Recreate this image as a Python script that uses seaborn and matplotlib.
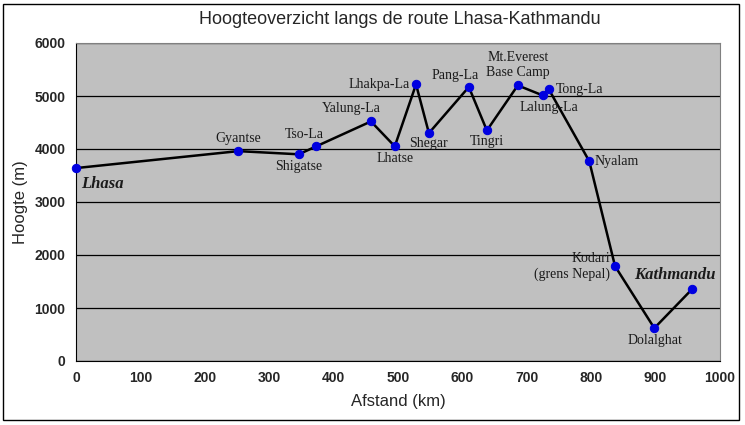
import matplotlib
matplotlib.use("Agg")
import matplotlib.pyplot as plt
import seaborn as sns
import pandas as pd
from matplotlib.patches import Rectangle

# route data
places = ["Lhasa", "Gyantse", "Shigatse", "Tso-La", "Yalung-La", "Lhatse", "Lhakpa-La",
          "Shegar", "Pang-La", "Tingri", "Mt.Everest\nBase Camp", "Lalung-La", "Tong-La",
          "Nyalam", "Kodari\n(grens Nepal)", "Dolalghat", "Kathmandu"]
distance_km = [0, 252, 346, 373, 458, 495, 528, 548, 610, 638, 686, 725, 734, 797, 837, 898, 957]
height_m = [3640, 3960, 3900, 4050, 4520, 4050, 5220, 4300, 5170, 4350, 5200, 5010, 5130,
            3770, 1790, 620, 1360]

# label placement: (dx px, dy px, ha, va)
label_pos = {
    "Lhasa": (5, -8, "left", "top"),
    "Gyantse": (0, 6, "center", "bottom"),
    "Shigatse": (0, -6, "center", "top"),
    "Tso-La": (-12, 5, "center", "bottom"),
    "Yalung-La": (-20, 6, "center", "bottom"),
    "Lhatse": (0, -6, "center", "top"),
    "Lhakpa-La": (-6, 0, "right", "center"),
    "Shegar": (0, -4, "center", "top"),
    "Pang-La": (-14, 5, "center", "bottom"),
    "Tingri": (0, -5, "center", "top"),
    "Mt.Everest\nBase Camp": (0, 6, "center", "bottom"),
    "Lalung-La": (6, -6, "center", "top"),
    "Tong-La": (7, 0, "left", "center"),
    "Nyalam": (5, 0, "left", "center"),
    "Kodari\n(grens Nepal)": (-5, 0, "right", "center"),
    "Dolalghat": (1, -6, "center", "top"),
    "Kathmandu": (-17, 6, "center", "bottom"),
}

df = pd.DataFrame({"Afstand": distance_km, "Hoogte": height_m, "Plaats": places})

sns.set_style("white")
plt.rcParams["font.family"] = ["Liberation Sans", "DejaVu Sans"]

fig = plt.figure(figsize=(7.45, 4.25), dpi=100)
ax = fig.add_axes([76 / 745, 1 - 361 / 425, (720 - 76) / 745, (361 - 43) / 425])

sns.lineplot(data=df, x="Afstand", y="Hoogte", sort=False, color="black", linewidth=1.8,
             marker="o", markersize=6, markerfacecolor="#0000e0", markeredgecolor="#0000e0",
             ax=ax, zorder=3, clip_on=False)

for name, x, y in zip(places, distance_km, height_m):
    dx, dy, ha, va = label_pos[name]
    big = name in ("Lhasa", "Kathmandu")
    ax.annotate(name, (x, y), xytext=(dx, dy), textcoords="offset pixels", ha=ha, va=va,
                fontsize=12 if big else 10, family="Liberation Serif",
                style="italic" if big else "normal",
                fontweight="semibold" if big else "normal", color="#1a1a1a",
                linespacing=1.25, zorder=4)

ax.set_facecolor("#c0c0c0")
ax.set_xlim(0, 1000)
ax.set_ylim(0, 6000)
ax.set_xticks(range(0, 1001, 100))
ax.set_yticks(range(0, 6001, 1000))
ax.yaxis.grid(True, color="black", linewidth=0.9)
ax.set_axisbelow(True)
for side in ("top", "right"):
    ax.spines[side].set_color("#808080")
for side in ("left", "bottom"):
    ax.spines[side].set_color("black")
ax.tick_params(axis="both", direction="out", length=4, width=0.8, color="black",
               labelsize=10)
for lab in ax.get_xticklabels() + ax.get_yticklabels():
    lab.set_fontweight("bold")

ax.set_xlabel("Afstand (km)", fontsize=12, labelpad=6)
ax.set_ylabel("Hoogte (m)", fontsize=12, labelpad=5)
fig.text(400 / 745, 1 - 20 / 425, "Hoogteoverzicht langs de route Lhasa-Kathmandu",
         ha="center", va="center", fontsize=13)

fig.patches.append(Rectangle((3 / 745, 5 / 425), 736 / 745, 416 / 425,
                             transform=fig.transFigure, fill=False,
                             edgecolor="black", linewidth=1))

fig.savefig("out.png", dpi=100)
